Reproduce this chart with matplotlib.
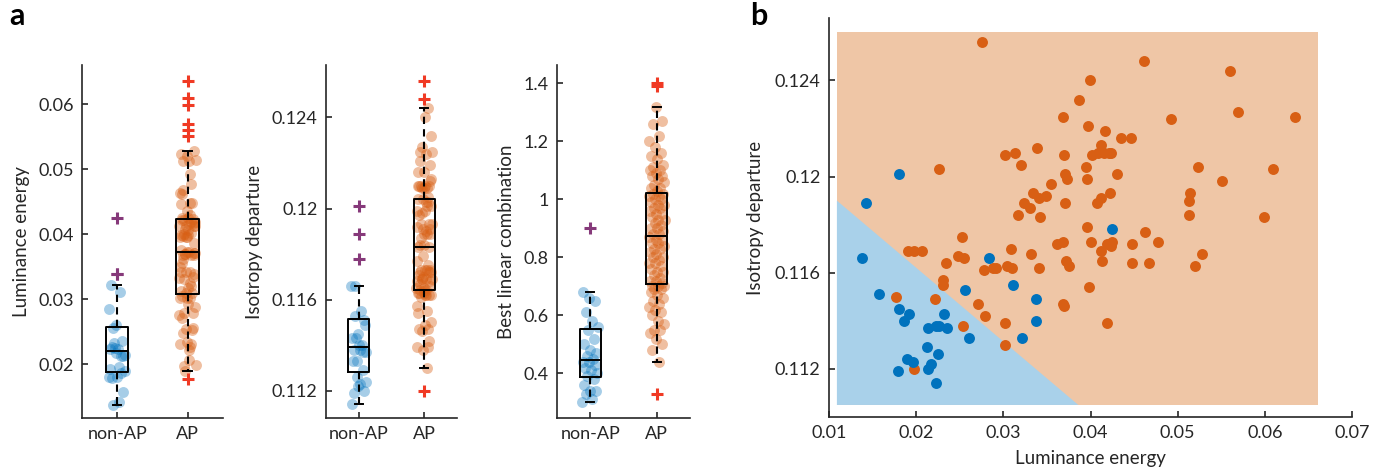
import numpy as np
import matplotlib.pyplot as plt

plt.rcParams['font.family'] = ['Lato', 'DejaVu Sans']

# non-AP images (blue): luminance energy / isotropy departure
nonap_lum = [0.0180, 0.0142, 0.01375, 0.0157, 0.0180, 0.0192, 0.0186, 0.0232,
             0.0214, 0.0223, 0.0226, 0.0235, 0.0260, 0.0284, 0.0311, 0.0256,
             0.0338, 0.0338, 0.0321, 0.0212, 0.0225, 0.0189, 0.0196, 0.0179,
             0.0213, 0.0217, 0.0223, 0.0425]
nonap_iso = [0.1201, 0.1189, 0.1166, 0.1151, 0.1145, 0.1143, 0.1140, 0.1143,
             0.1137, 0.1138, 0.1138, 0.1137, 0.1133, 0.1166, 0.1155, 0.1153,
             0.1149, 0.1140, 0.1133, 0.1129, 0.1126, 0.1124, 0.1123, 0.1119,
             0.1120, 0.1122, 0.1114, 0.1178]

# AP images (orange)
ap_lum = [0.0276, 0.0226, 0.0368, 0.0339, 0.0302, 0.0313, 0.0320, 0.0370,
          0.0371, 0.0373, 0.0355, 0.0334, 0.0341, 0.0349, 0.0324, 0.0331,
          0.0371, 0.0317, 0.0342,
          0.0253, 0.0190, 0.0198, 0.0207, 0.0248, 0.0255, 0.0234, 0.0231,
          0.0231, 0.0278, 0.0288, 0.0292, 0.0304, 0.0310, 0.0309, 0.0332,
          0.0341, 0.0362, 0.0368, 0.0372, 0.0375, 0.0368, 0.0369, 0.0177,
          0.0221, 0.0271, 0.0279, 0.0254, 0.0302, 0.0302, 0.0197,
          0.0387, 0.0399, 0.0461, 0.0560, 0.0569, 0.0635, 0.0492, 0.0397,
          0.0417, 0.0435, 0.0446, 0.0402, 0.0408, 0.0412, 0.0415, 0.0421,
          0.0423, 0.0395, 0.0396, 0.0430, 0.0422, 0.0412, 0.0407, 0.0523,
          0.0609, 0.0551, 0.0514, 0.0513, 0.0513, 0.0599,
          0.0396, 0.0463, 0.0477, 0.0400, 0.0419, 0.0425, 0.0424, 0.0448,
          0.0412, 0.0413, 0.0448, 0.0467, 0.0528, 0.0520, 0.0398, 0.0419]
ap_iso = [0.1256, 0.1203, 0.1225, 0.1212, 0.1209, 0.1210, 0.1205, 0.1209,
          0.1201, 0.1199, 0.1197, 0.1193, 0.1191, 0.1192, 0.1189, 0.1187,
          0.1189, 0.1184, 0.1183,
          0.1175, 0.1169, 0.1169, 0.1169, 0.1167, 0.1166, 0.1164, 0.1157,
          0.1155, 0.1161, 0.1162, 0.1162, 0.1163, 0.1162, 0.1170, 0.1168,
          0.1162, 0.1172, 0.1173, 0.1165, 0.1163, 0.1147, 0.1146, 0.1150,
          0.1149, 0.1147, 0.1142, 0.1138, 0.1139, 0.1130, 0.1120,
          0.1232, 0.1240, 0.1248, 0.1244, 0.1227, 0.1225, 0.1224, 0.1221,
          0.1219, 0.1216, 0.1216, 0.1209, 0.1210, 0.1213, 0.1210, 0.1210,
          0.1210, 0.1204, 0.1199, 0.1201, 0.1193, 0.1191, 0.1189, 0.1204,
          0.1203, 0.1198, 0.1193, 0.1190, 0.1184, 0.1183,
          0.1179, 0.1177, 0.1173, 0.1173, 0.1172, 0.1173, 0.1171, 0.1172,
          0.1169, 0.1165, 0.1164, 0.1164, 0.1168, 0.1163, 0.1154, 0.1139]

# best linear combination
nonap_blc = [0.30, 0.31, 0.33, 0.34, 0.34, 0.36, 0.38, 0.39, 0.40, 0.41,
             0.42, 0.43, 0.44, 0.44, 0.45, 0.46, 0.47, 0.48, 0.50, 0.52,
             0.55, 0.56, 0.58, 0.61, 0.65, 0.66, 0.68, 0.90]
ap_blc = [0.33, 0.44, 0.48, 0.50, 0.52, 0.54, 0.55, 0.55, 0.57, 0.58,
          0.60, 0.61, 0.62, 0.63, 0.64, 0.65, 0.66, 0.67, 0.68, 0.69,
          0.69, 0.70, 0.70, 0.70,
          0.71, 0.72, 0.72, 0.73, 0.74, 0.75, 0.75, 0.76, 0.77, 0.78,
          0.78, 0.79, 0.80, 0.80, 0.81, 0.82, 0.83, 0.83, 0.84, 0.85,
          0.85, 0.86, 0.86, 0.87,
          0.88, 0.88, 0.89, 0.90, 0.90, 0.91, 0.92, 0.93, 0.93, 0.94,
          0.95, 0.95, 0.96, 0.97, 0.97, 0.98, 0.98, 0.99, 1.00, 1.00,
          1.01, 1.01, 1.02, 1.02,
          1.03, 1.04, 1.04, 1.05, 1.06, 1.07, 1.08, 1.08, 1.09, 1.10,
          1.10, 1.11, 1.12, 1.14, 1.15, 1.16, 1.18, 1.20, 1.22, 1.26,
          1.27, 1.32, 1.39, 1.40]

groups = ['non-AP', 'AP']

# decision regions of panel b
region_x = [0.0109, 0.0661]
region_y = [0.1105, 0.1260]
boundary_x = [0.0109, 0.0386]
boundary_y = [0.1190, 0.1105]

BLUE = '#0072BD'
ORANGE = '#D85F14'
TXT = '#262626'
WHIS = 1.05


def style_axes(ax):
	for s in ['top', 'right']:
		ax.spines[s].set_visible(False)
	for s in ['left', 'bottom']:
		ax.spines[s].set_color(TXT)
		ax.spines[s].set_linewidth(1.2)
	ax.tick_params(direction='in', length=4, width=1.2, colors=TXT,
				   labelsize=13, pad=6)


def jitter(n, width=0.12):
	# deterministic spread of the dots around the box centre
	return ((np.arange(n) * 0.618034) % 1 - 0.5) * 2 * width


def box_panel(ax, nonap, ap, ylabel, ylim, yticks, yticklabels):
	data = [np.array(nonap), np.array(ap)]
	bp = ax.boxplot(data, positions=[1, 2], widths=0.32, whis=WHIS,
					patch_artist=False, capwidths=0.12,
					boxprops=dict(color='black', lw=1.4),
					medianprops=dict(color='black', lw=1.4),
					whiskerprops=dict(color='black', lw=1.5, ls=(0, (3.5, 2.5))),
					capprops=dict(color='black', lw=1.4),
					flierprops=dict(marker='+', markersize=9, mew=2.2))
	for fl, c in zip(bp['fliers'], ['#86397A', '#F03A24']):
		fl.set_markeredgecolor(c)
		fl.set_zorder(4)
	for key in ['boxes', 'medians', 'whiskers', 'caps']:
		for art in bp[key]:
			art.set_zorder(3)
	for pos, vals, col, a in zip([1, 2], data, [BLUE, ORANGE], [0.35, 0.4]):
		q1, q3 = np.percentile(vals, [25, 75])
		iqr = q3 - q1
		keep = (vals >= q1 - WHIS * iqr) & (vals <= q3 + WHIS * iqr)
		xs = pos + jitter(len(vals))
		ax.scatter(xs[keep], vals[keep], s=62, color=col, alpha=a,
				   linewidths=0, zorder=2)
	ax.set_xlim(0.5, 2.5)
	ax.set_ylim(*ylim)
	ax.set_xticks([1, 2])
	ax.set_xticklabels(groups)
	ax.set_yticks(yticks)
	ax.set_yticklabels(yticklabels)
	ax.set_ylabel(ylabel, fontsize=13.5, color=TXT, labelpad=6)
	style_axes(ax)


fig = plt.figure(figsize=(13.82, 4.74), dpi=100)

ax1 = fig.add_axes([0.0593, 0.1181, 0.102, 0.7447])
box_panel(ax1, nonap_lum, ap_lum, 'Luminance energy', (0.0117, 0.066),
		  [0.02, 0.03, 0.04, 0.05, 0.06], ['0.02', '0.03', '0.04', '0.05', '0.06'])

ax2 = fig.add_axes([0.2359, 0.1181, 0.0948, 0.7447])
box_panel(ax2, nonap_iso, ap_iso, 'Isotropy departure', (0.1108, 0.1263),
		  [0.112, 0.116, 0.12, 0.124], ['0.112', '0.116', '0.12', '0.124'])

ax3 = fig.add_axes([0.403, 0.1181, 0.0962, 0.7447])
box_panel(ax3, nonap_blc, ap_blc, 'Best linear combination', (0.246, 1.463),
		  [0.4, 0.6, 0.8, 1.0, 1.2, 1.4], ['0.4', '0.6', '0.8', '1', '1.2', '1.4'])

# panel b
axb = fig.add_axes([0.5999, 0.1203, 0.3784, 0.8418])
axb.fill([region_x[0], region_x[1], region_x[1], region_x[0]],
		 [region_y[0], region_y[0], region_y[1], region_y[1]],
		 color='#EFC6A6', lw=0, zorder=0)
axb.fill([boundary_x[0], boundary_x[0], boundary_x[1]],
		 [region_y[0], boundary_y[0], boundary_y[1]],
		 color='#A9D1EA', lw=0, zorder=0)
axb.scatter(ap_lum, ap_iso, s=62, color=ORANGE, linewidths=0, zorder=2)
axb.scatter(nonap_lum, nonap_iso, s=62, color=BLUE, linewidths=0, zorder=3)
axb.set_xlim(0.01, 0.07)
axb.set_ylim(0.110, 0.1266)
axb.set_xticks([0.01, 0.02, 0.03, 0.04, 0.05, 0.06, 0.07])
axb.set_xticklabels(['0.01', '0.02', '0.03', '0.04', '0.05', '0.06', '0.07'])
axb.set_yticks([0.112, 0.116, 0.12, 0.124])
axb.set_yticklabels(['0.112', '0.116', '0.12', '0.124'])
axb.set_xlabel('Luminance energy', fontsize=13.5, color=TXT, labelpad=6)
axb.set_ylabel('Isotropy departure', fontsize=13.5, color=TXT, labelpad=8)
style_axes(axb)

fig.text(0.007, 0.995, 'a', fontsize=22, fontweight='bold', va='top')
fig.text(0.543, 0.995, 'b', fontsize=22, fontweight='bold', va='top')

fig.savefig('out.png', dpi=100)
